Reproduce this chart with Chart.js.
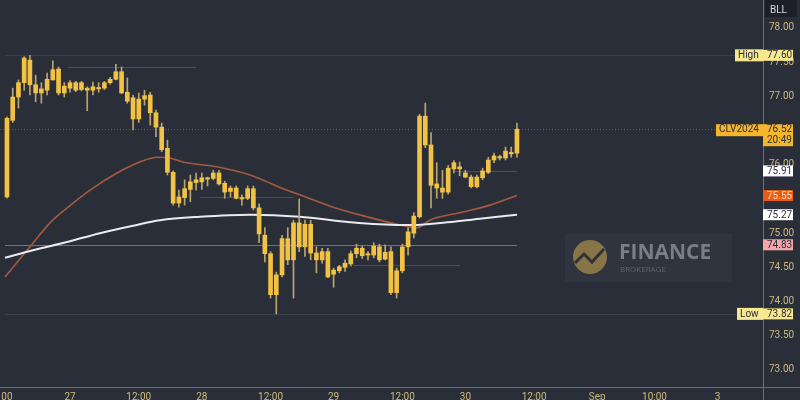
<!DOCTYPE html>
<html><head><meta charset="utf-8">
<script src="https://cdn.jsdelivr.net/npm/chart.js@4.4.1/dist/chart.umd.min.js"></script>
<style>html,body{margin:0;padding:0;background:#2a2e39;overflow:hidden}#wrap{width:800px;height:400px}</style>
</head><body><div id="wrap"><canvas id="c" width="800" height="400"></canvas></div>
<script>
// ---- data (hourly candles, index 0..89) ----
const openP =[75.53,76.65,76.99,77.20,77.53,77.17,77.05,77.09,77.24,77.40,77.05,77.12,77.20,77.10,77.12,77.09,77.13,77.12,77.20,77.25,
77.36,77.06,76.98,76.67,76.96,77.02,76.76,76.55,76.24,75.89,75.44,75.52,75.64,75.74,75.75,75.79,75.80,75.88,75.73,75.61,
75.66,75.52,75.51,75.65,75.37,74.97,74.70,74.10,74.39,74.92,74.61,75.15,74.80,75.13,74.71,74.61,74.73,74.40,74.45,74.50,
74.55,74.70,74.78,74.68,74.68,74.80,74.62,74.73,74.13,74.45,74.80,75.00,75.24,76.71,76.29,75.72,75.66,75.60,75.94,75.97,
75.88,75.82,75.68,75.81,75.89,76.07,76.12,76.10,76.18,76.17];
const highP =[76.70,77.12,77.24,77.58,77.60,77.31,77.20,77.34,77.52,77.43,77.20,77.23,77.22,77.22,77.14,77.21,77.20,77.22,77.28,77.47,
77.43,77.27,77.02,77.05,77.09,77.06,76.80,76.61,76.36,75.91,75.63,75.78,75.85,75.88,75.88,75.82,75.92,75.92,75.76,75.69,
75.69,75.56,75.69,75.69,75.43,75.08,74.73,74.43,74.97,75.08,75.19,75.50,75.19,75.19,74.80,74.78,74.78,74.49,74.53,74.61,
74.74,74.84,74.81,74.73,74.86,74.84,74.83,74.80,74.49,74.84,75.08,75.30,76.74,76.90,76.47,76.03,75.92,75.99,76.06,76.04,
75.92,75.85,75.85,75.95,76.11,76.17,76.14,76.26,76.26,76.61];
const lowP  =[75.51,76.62,76.83,77.09,77.02,76.92,76.90,77.02,77.24,77.02,76.99,77.06,77.07,77.08,76.79,77.02,77.06,77.10,77.18,77.24,
77.04,76.90,76.51,76.62,76.87,76.58,76.41,76.19,75.85,75.41,75.38,75.41,75.46,75.63,75.64,75.69,75.78,75.70,75.51,75.53,
75.50,75.41,75.49,75.34,74.86,74.58,74.05,73.82,74.36,74.54,74.05,74.73,74.66,74.61,74.42,74.56,74.35,74.21,74.42,74.44,
74.52,74.64,74.63,74.61,74.64,74.58,74.61,74.10,74.05,74.42,74.68,74.93,75.22,76.25,75.37,75.51,75.51,75.57,75.88,75.84,
75.81,75.66,75.66,75.78,75.87,76.03,76.07,76.07,76.11,76.11];
const closeP=[76.68,76.99,77.20,77.56,77.17,77.05,77.11,77.25,77.39,77.05,77.15,77.20,77.09,77.20,77.09,77.14,77.11,77.20,77.25,77.36,
77.05,76.93,76.67,76.96,77.01,76.76,76.55,76.22,75.89,75.44,75.53,75.65,75.75,75.78,75.81,75.81,75.88,75.72,75.60,75.66,
75.51,75.50,75.65,75.37,74.99,74.70,74.10,74.39,74.92,74.61,75.15,74.80,75.13,74.71,74.61,74.73,74.36,74.46,74.51,74.56,
74.70,74.78,74.67,74.70,74.81,74.61,74.72,74.13,74.45,74.80,75.02,75.25,76.71,76.29,75.70,75.66,75.60,75.95,76.03,75.94,
75.82,75.68,75.82,75.91,76.07,76.13,76.10,76.20,76.16,76.52];
// moving averages (bar index, price)
const emaIdx=[-0.35,4.0,7.5,10.5,14.5,19.2,23.2,26.2,28.4,30.7,36.6,42.4,45.4,48.2,51.1,56.9,62.8,68.6,71.6,73.8,79.6,84.3,89];
const emaVal=[74.36,74.80,75.15,75.37,75.63,75.88,76.04,76.11,76.10,76.04,75.97,75.85,75.75,75.65,75.56,75.38,75.24,75.12,75.08,75.19,75.31,75.41,75.55];
const smaIdx=[-0.35,4.5,10.5,16.2,22.0,26.7,33.7,42.4,51.1,59.9,68.6,70.9,76.8,82.5,89];
const smaVal=[74.64,74.75,74.87,75.00,75.11,75.19,75.24,75.27,75.24,75.16,75.12,75.12,75.16,75.21,75.27];
// axis ticks
const timeTickIdx=[0,11,23,34,46,57,69,80,92,103,113,124];
const timeTickLabels=["00","27","12:00","28","12:00","29","12:00","30","12:00","Sep","10:00","3"];
const priceTicks=[73,73.5,74,74.5,75,76,77,77.5,78];
// price badges on the right axis
const badgeValues=[77.60,76.52,75.91,75.55,75.27,74.83,73.82];
const badgeTags=["High","CLV2024","","","","","Low"];
const badgeBg=["#f8e88f","#f5b62c","#ffffff","#e85d12","#ffffff","#f4a6aa","#f8e88f"];
const badgeFg=["#2a2e39","#2a2e39","#2a2e39","#ffd9c2","#2a2e39","#2a2e39","#2a2e39"];
const countdownText="20:49";
const unitText="BLL";
// drawn horizontal levels (price, from bar, to bar)
const rayPrice=[77.43,75.53,74.54,75.91];
const rayFrom=[10.6,33.7,60.4,78.2];
const rayTo=[33.0,50.0,79.1,89.0];
const lastPrice=76.52, hiPrice=77.60, loPrice=73.82, pinkLevel=74.83;

const F='"Liberation Sans Narrow","Roboto",sans-serif';
const n=openP.length, idx=[...Array(n).keys()];

const overlay={id:'overlay',
 beforeDatasetsDraw(chart){
  const {ctx,chartArea:a,scales:{x,y}}=chart;
  ctx.save();
  // watermark
  ctx.fillStyle='rgba(255,255,255,0.03)';ctx.fillRect(565,233,167,49);
  ctx.fillStyle='#877447';ctx.beginPath();ctx.arc(590,257,17,0,Math.PI*2);ctx.fill();
  ctx.strokeStyle='#2f323b';ctx.lineWidth=3;ctx.beginPath();
  ctx.moveTo(575,263);ctx.lineTo(584,254);ctx.lineTo(592,262);ctx.lineTo(604,249);ctx.stroke();
  ctx.fillStyle='#7b7e88';ctx.font='bold 21px "Open Sans",sans-serif';ctx.textBaseline='alphabetic';
  ctx.fillText('FINANCE',619,259);
  ctx.font='8px "Open Sans",sans-serif';ctx.fillStyle='#62656f';ctx.fillText('BROKERAGE',620,272);
  // levels
  const hl=(p,x0,x1,col,dash,w)=>{ctx.strokeStyle=col;ctx.lineWidth=w||1;ctx.setLineDash(dash||[]);
    const yy=Math.round(y.getPixelForValue(p))+0.5;ctx.beginPath();ctx.moveTo(x0,yy);ctx.lineTo(x1,yy);ctx.stroke();};
  hl(hiPrice,x.getPixelForValue(-0.35),a.right,'rgba(150,150,160,0.18)');
  hl(loPrice,x.getPixelForValue(-0.35),a.right,'rgba(150,150,160,0.18)');
  hl(lastPrice,a.left,a.right,'rgba(214,140,60,0.45)',[1,2]);
  hl(pinkLevel,x.getPixelForValue(-0.35),x.getPixelForValue(89),'#946569');
  for(let i=0;i<rayPrice.length;i++) hl(rayPrice[i],x.getPixelForValue(rayFrom[i]),x.getPixelForValue(rayTo[i]),'rgba(160,160,170,0.28)');
  ctx.setLineDash([]);
  ctx.restore();
 },
 afterDraw(chart){
  const {ctx,chartArea:a,scales:{y}}=chart;
  ctx.save();
  // extend axis borders
  ctx.strokeStyle='#77704c';ctx.lineWidth=1;
  ctx.beginPath();ctx.moveTo(a.right+0.5,a.bottom);ctx.lineTo(a.right+0.5,400);ctx.stroke();
  ctx.beginPath();ctx.moveTo(a.right,a.bottom+0.5);ctx.lineTo(800,a.bottom+0.5);ctx.stroke();
  // unit box
  ctx.fillStyle='#1c1f28';ctx.fillRect(a.right+2,0,32,17);
  ctx.fillStyle='#d8dae0';ctx.font='10px '+F;ctx.textBaseline='middle';ctx.textAlign='left';
  ctx.fillText(unitText,a.right+7,10);
  // badges
  const bx=a.right, bw=30;
  ctx.font='10px '+F;
  for(let i=0;i<badgeValues.length;i++){
    const yy=y.getPixelForValue(badgeValues[i]);
    const tag=badgeTags[i], isLast=tag==='CLV2024';
    const tw=tag?Math.ceil(ctx.measureText(tag).width)+7:0;
    ctx.fillStyle=badgeBg[i];
    if(isLast){
      ctx.fillRect(bx,yy-5,bw,22);
      ctx.fillRect(bx-tw,yy-5,tw,12);
    }else{
      ctx.fillRect(bx,yy-5.5,bw,11);
      if(tag) ctx.fillRect(bx-tw,yy-6,tw,12);
    }
    ctx.fillStyle=badgeFg[i];ctx.textBaseline='middle';ctx.textAlign='left';
    ctx.fillText(badgeValues[i].toFixed(2),bx+4,yy+0.5);
    if(isLast) ctx.fillText(countdownText,bx+4,yy+11);
    if(tag) ctx.fillText(tag,bx-tw+3,yy+0.5);
  }
  ctx.restore();
 }
};

new Chart(document.getElementById('c'),{
 type:'bar',
 data:{datasets:[
  {type:'line',label:'EMA',data:emaIdx.map((v,i)=>({x:v,y:emaVal[i]})),borderColor:'#a65a3d',borderWidth:1.6,pointRadius:0,cubicInterpolationMode:'monotone',order:3},
  {type:'line',label:'SMA',data:smaIdx.map((v,i)=>({x:v,y:smaVal[i]})),borderColor:'#e9ebf0',borderWidth:2,pointRadius:0,cubicInterpolationMode:'monotone',order:2},
  {label:'wick',data:idx.map(i=>({x:i,y:[lowP[i],highP[i]]})),backgroundColor:'#b9a66c',barThickness:1,grouped:false,order:1},
  {label:'body',data:idx.map(i=>({x:i,y:[openP[i],closeP[i]]})),backgroundColor:'#f2c244',barThickness:4,minBarLength:1,grouped:false,order:0}
 ]},
 options:{
  responsive:false,animation:false,devicePixelRatio:1,
  layout:{padding:0},
  plugins:{legend:{display:false},tooltip:{enabled:false}},
  scales:{
   x:{type:'linear',min:-1.22,max:131.94,offset:false,
      grid:{display:false,drawTicks:false},border:{display:true,color:'#77704c'},
      afterBuildTicks:s=>{s.ticks=timeTickIdx.map(v=>({value:v}));},
      ticks:{autoSkip:false,maxRotation:0,color:'#cdbb7c',font:{size:10,family:F},padding:4,
        callback:(v,i)=>timeTickLabels[i]},
      afterFit:s=>{s.height=13;s.paddingLeft=0;s.paddingRight=0;}},
   y:{position:'right',min:72.751,max:78.409,
      grid:{display:false,drawTicks:false},border:{display:true,color:'#77704c'},
      afterBuildTicks:s=>{s.ticks=priceTicks.map(v=>({value:v}));},
      ticks:{color:'#cdbb7c',font:{size:10,family:F},padding:6,callback:v=>Number(v).toFixed(2)},
      afterFit:s=>{s.width=37;s.paddingTop=0;s.paddingBottom=0;}}
  }
 },
 plugins:[overlay]
});
</script></body></html>
